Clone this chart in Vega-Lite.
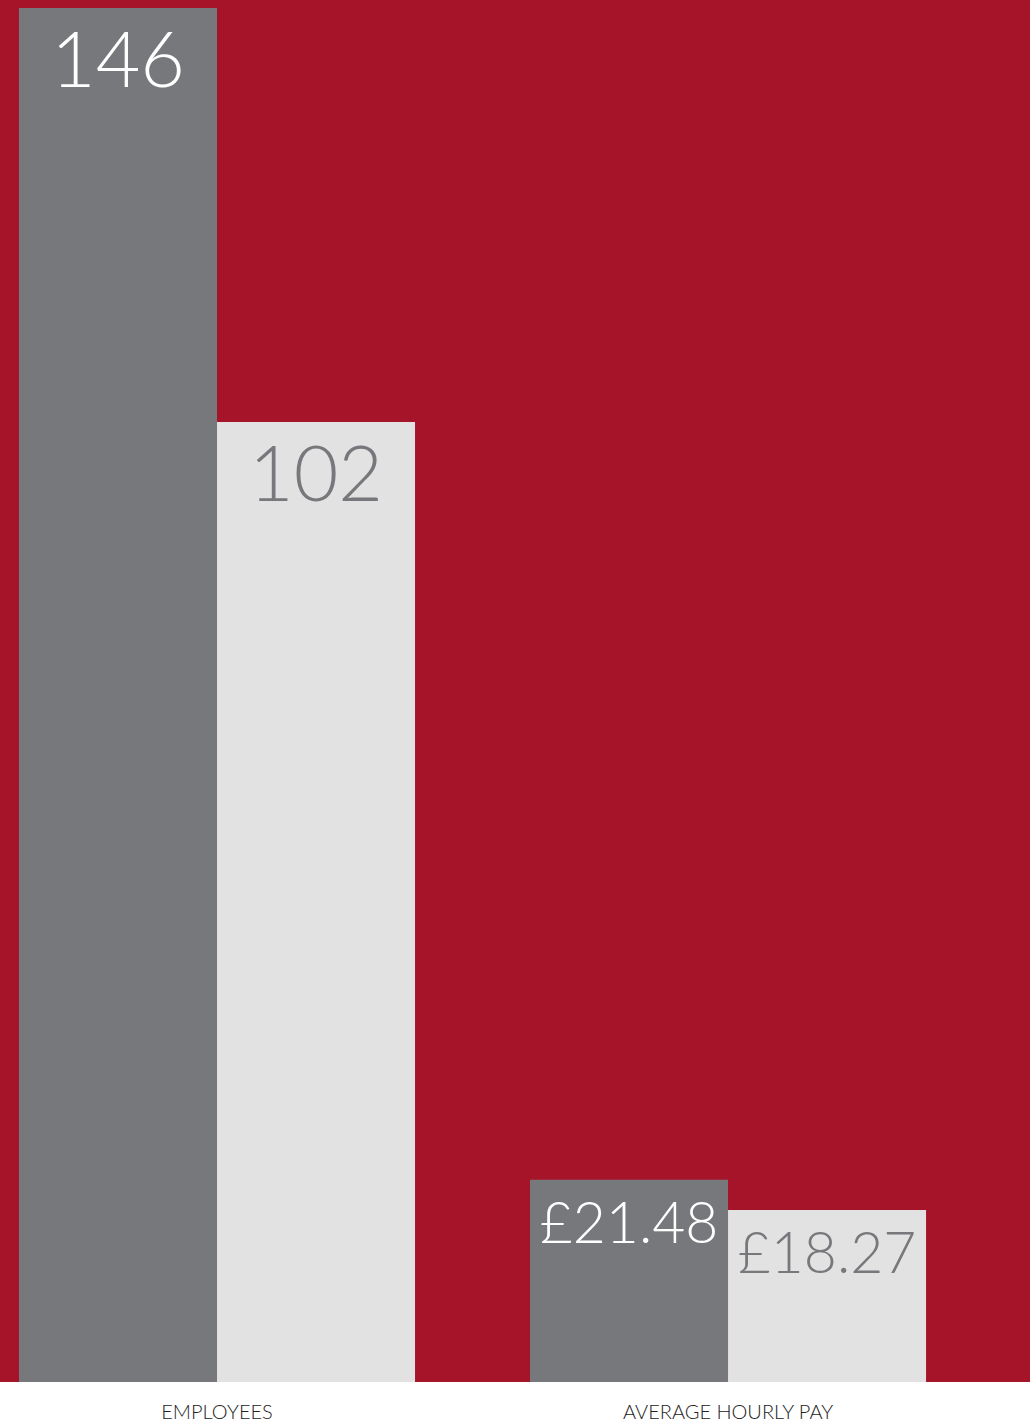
{
  "$schema": "https://vega.github.io/schema/vega-lite/v6.json",
  "width": 1030,
  "height": 1382,
  "padding": {"top": 0, "left": 0, "right": 0, "bottom": 40},
  "autosize": {"type": "none"},
  "background": "#ffffff",
  "config": {
    "view": {"fill": "#A6142A", "stroke": null},
    "font": "Lato"
  },
  "data": {
    "values": [
      {"category": "EMPLOYEES", "group": "Male", "value": 146, "label": "146"},
      {"category": "EMPLOYEES", "group": "Female", "value": 102, "label": "102"},
      {"category": "AVERAGE HOURLY PAY", "group": "Male", "value": 21.48, "label": "£21.48"},
      {"category": "AVERAGE HOURLY PAY", "group": "Female", "value": 18.27, "label": "£18.27"}
    ]
  },
  "encoding": {
    "x": {
      "field": "category", "type": "nominal", "sort": ["EMPLOYEES", "AVERAGE HOURLY PAY"],
      "scale": {"paddingInner": 0.225, "paddingOuter": 0.1203, "align": 0.1545},
      "axis": {"title": null, "ticks": false, "domain": false, "labelAngle": 0, "labelFont": "Lato", "labelFontWeight": 300, "labelFontSize": 20, "labelLimit": 0, "labelColor": "#222222", "labelPadding": 20, "labelBaseline": "top"}
    },
    "xOffset": {"field": "group", "type": "nominal", "sort": ["Male", "Female"], "scale": {"paddingInner": 0, "paddingOuter": 0}},
    "y": {"field": "value", "type": "quantitative", "scale": {"domain": [0, 146.85], "nice": false, "zero": true}, "axis": null}
  },
  "layer": [
    {
      "mark": {"type": "bar"},
      "encoding": {
        "color": {"field": "group", "type": "nominal", "sort": ["Male", "Female"], "scale": {"domain": ["Male", "Female"], "range": ["#77787B", "#E2E2E2"]}, "legend": null}
      }
    },
    {
      "mark": {"type": "text", "baseline": "top", "align": "center", "dy": 18, "font": "Lato", "fontWeight": 300},
      "encoding": {
        "text": {"field": "label"},
        "size": {"field": "category", "type": "nominal", "scale": {"domain": ["EMPLOYEES", "AVERAGE HOURLY PAY"], "range": [77, 57]}, "legend": null},
        "color": {"field": "group", "type": "nominal", "scale": {"domain": ["Male", "Female"], "range": ["#FFFFFF", "#77787B"]}, "legend": null}
      }
    }
  ],
  "resolve": {"scale": {"color": "independent"}}
}
